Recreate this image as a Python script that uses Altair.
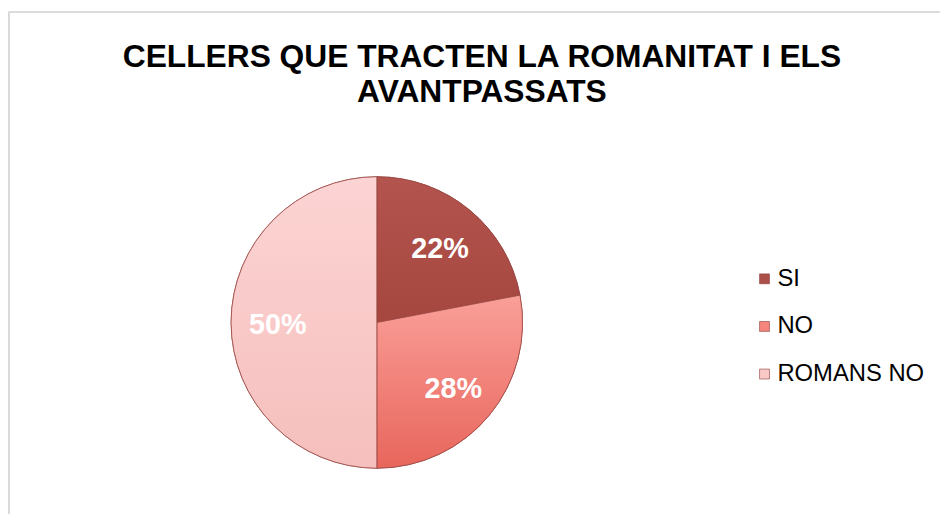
import altair as alt
import pandas as pd

categories = ["SI", "NO", "ROMANS NO"]
values = [22, 28, 50]
labels = ["22%", "28%", "50%"]
colors = ["#ad4f49", "#f4867e", "#f9c9c7"]
grad_top = ["#b3544e", "#fa9f99", "#fcd4d3"]
grad_bottom = ["#a5463f", "#e8665c", "#f5bfbd"]

df = pd.DataFrame({"cat": categories, "val": values, "lab": labels, "ord": [0, 1, 2]})

CX, CY, R = 372, 185, 147

theta_scale = alt.Scale(domain=[0, 100])


def stacked():
    return (
        alt.Chart(df)
        .transform_window(end="sum(val)", sort=[alt.SortField("ord")], frame=[None, 0])
        .transform_calculate(start="datum.end - datum.val", mid="datum.end - datum.val / 2")
    )


pie = stacked().mark_arc(radius=R, stroke="#9a4843", strokeWidth=0.8).encode(
    theta=alt.Theta("start:Q", scale=theta_scale),
    theta2="end:Q",
    x=alt.value(CX),
    y=alt.value(CY),
    color=alt.Color(
        "cat:N",
        scale=alt.Scale(domain=categories, range=colors),
        sort=categories,
        legend=alt.Legend(
            title=None,
            orient="none",
            legendX=751,
            legendY=129,
            symbolType="square",
            symbolSize=100,
            symbolStrokeColor="#8a3f3b",
            symbolStrokeWidth=0.6,
            labelFont="Liberation Sans",
            labelFontSize=24,
            labelColor="#000000",
            rowPadding=24,
            labelOffset=1,
        ),
    ),
)

overlays = []
for i, c in enumerate(categories):
    overlays.append(
        stacked()
        .transform_filter(alt.datum.cat == c)
        .mark_arc(
            radius=R,
            stroke="#9a4843",
            strokeWidth=0.8,
            fill={
                "gradient": "linear",
                "x1": 0, "y1": 0, "x2": 0, "y2": 1,
                "stops": [
                    {"offset": 0, "color": grad_top[i]},
                    {"offset": 1, "color": grad_bottom[i]},
                ],
            },
        )
        .encode(
            theta=alt.Theta("start:Q", scale=theta_scale),
            theta2="end:Q",
            x=alt.value(CX),
            y=alt.value(CY),
        )
    )

text = stacked().mark_text(
    radius=100,
    dy=3,
    font="Liberation Sans",
    fontSize=29,
    fontWeight="bold",
    color="white",
).encode(
    theta=alt.Theta("mid:Q", scale=theta_scale),
    x=alt.value(CX),
    y=alt.value(CY),
    text="lab:N",
)

frame = alt.Chart(df).mark_rect(
    fill=None, stroke="#d9d9d9", strokeWidth=1.5
).encode(
    x=alt.value(1), y=alt.value(-128), x2=alt.value(1000), y2=alt.value(600)
)

chart = (
    alt.layer(frame, pie, *overlays, text)
    .properties(
        width=940,
        height=376,
        padding={"left": 0, "top": 130, "right": 0, "bottom": 0},
        autosize=alt.AutoSizeParams(type="none"),
        title=alt.TitleParams(
            text=["CELLERS QUE TRACTEN LA ROMANITAT I ELS", "AVANTPASSATS"],
            font="Liberation Sans",
            fontSize=32,
            fontWeight="bold",
            color="#000000",
            anchor="middle",
            frame="group",
            dx=8,
            dy=98,
            lineHeight=35,
            offset=0,
        ),
    )
    .configure_view(stroke=None)
)

chart.save("out.html", embed_options={"renderer": "svg", "actions": False})
